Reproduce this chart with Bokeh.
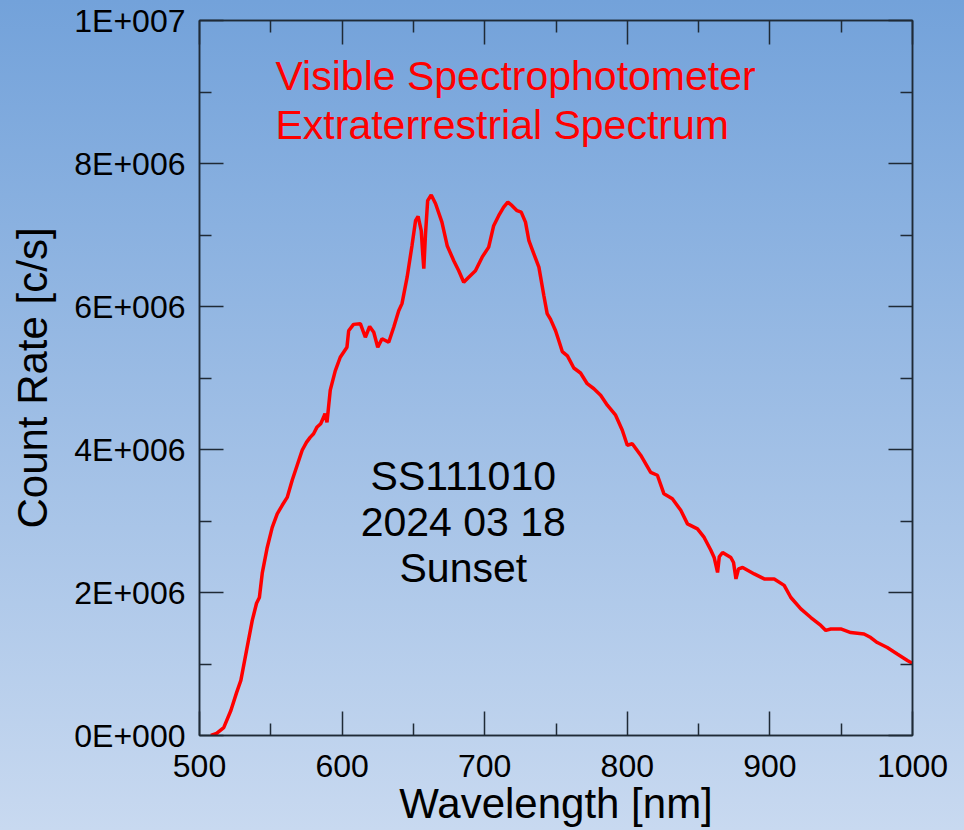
from bokeh.plotting import figure
from bokeh.models import LinearAxis, FixedTicker, Label, Range1d
from bokeh.embed import file_html
from bokeh.resources import INLINE

# ---------------- data ----------------
wavelength = [508, 512, 517, 522, 526, 529, 533, 537, 540, 542, 544, 547.5, 551, 554.5, 558,
              561.5, 565, 568.5, 572, 575, 577.6, 580, 582.3, 585, 587, 588, 589.4, 591.7,
              595.2, 598.7, 603.4, 604.6, 608, 612.8, 616.3, 619.3, 622.2, 625, 628, 632.7,
              636.2, 639.7, 642, 645.6, 649, 651.5, 653.3, 655.5, 656.5, 657.3, 658.5, 660,
              662.5, 665.5, 670, 673.7, 678.3, 681.8, 685.3, 688.8, 693.5, 698.2, 702.8,
              706.3, 709.8, 713.3, 716.2, 719.2, 722.7, 725.6, 728.6, 731, 734.4, 738, 741.5,
              743.8, 746.2, 749.7, 752, 754.4, 758, 762.5, 767.2, 771.9, 776.6, 781.3, 786,
              791.8, 796.5, 800, 803.5, 809.4, 816.4, 821.1, 825.7, 831.6, 837.5, 842.2,
              849.2, 853.9, 858.6, 860.9, 863.3, 864.5, 866.8, 872.6, 874.5, 876.2, 878,
              880.9, 889, 896, 903, 910, 914.7, 921.7, 928.7, 935.7, 939.2, 942.7, 949.7,
              956.7, 966, 970.7, 975.3, 982.3, 989.3, 996.4, 999.9]
count_rate_millions = [0.0, 0.03, 0.11, 0.35, 0.6, 0.77, 1.19, 1.61, 1.85, 1.93, 2.27, 2.63,
                       2.91, 3.1, 3.22, 3.33, 3.57, 3.78, 3.99, 4.1, 4.17, 4.22, 4.31, 4.36,
                       4.45, 4.5, 4.38, 4.83, 5.1, 5.29, 5.43, 5.66, 5.75, 5.76, 5.57, 5.72,
                       5.64, 5.43, 5.55, 5.5, 5.71, 5.94, 6.04, 6.41, 6.85, 7.2, 7.26, 7.06,
                       6.75, 6.53, 7.02, 7.48, 7.56, 7.44, 7.18, 6.85, 6.64, 6.5, 6.34, 6.41,
                       6.5, 6.69, 6.83, 7.13, 7.27, 7.39, 7.46, 7.41, 7.34, 7.32, 7.18, 6.92,
                       6.74, 6.55, 6.15, 5.9, 5.82, 5.66, 5.52, 5.37, 5.31, 5.14, 5.07, 4.92,
                       4.85, 4.76, 4.62, 4.48, 4.27, 4.06, 4.08, 3.92, 3.68, 3.64, 3.38, 3.31,
                       3.15, 2.96, 2.89, 2.77, 2.59, 2.49, 2.28, 2.5, 2.56, 2.49, 2.42, 2.19,
                       2.33, 2.35, 2.26, 2.19, 2.19, 2.1, 1.93, 1.77, 1.65, 1.54, 1.47, 1.49,
                       1.49, 1.44, 1.42, 1.37, 1.30, 1.23, 1.14, 1.05, 1.01]
count_rate = [v * 1e6 for v in count_rate_millions]

x_ticks = [500, 600, 700, 800, 900, 1000]
x_minor_ticks = [550, 650, 750, 850, 950]
y_ticks = [0, 2000000, 4000000, 6000000, 8000000, 10000000]
y_minor_ticks = [1000000, 3000000, 5000000, 7000000, 9000000]
y_tick_labels = ["0E+000", "2E+006", "4E+006", "6E+006", "8E+006", "1E+007"]

title_lines = ["Visible Spectrophotometer", "Extraterrestrial Spectrum"]
info_lines = ["SS111010", "2024 03 18", "Sunset"]

FONT = "Liberation Sans"
AXIS_COLOR = "#1f2a36"

# ---------------- figure ----------------
p = figure(width=964, height=830, output_backend="svg", toolbar_location=None,
           x_range=Range1d(500, 1000), y_range=Range1d(0, 1e7),
           min_border_left=199, min_border_right=52, min_border_top=20, min_border_bottom=95)
p.background_fill_color = None
p.border_fill_color = None
p.outline_line_color = AXIS_COLOR
p.outline_line_width = 1.5
p.styles = {"background-image": "linear-gradient(to bottom, #73A2DA, #C8D9F0)"}
p.xgrid.visible = False
p.ygrid.visible = False

xt = FixedTicker(ticks=x_ticks, minor_ticks=x_minor_ticks)
yt = FixedTicker(ticks=y_ticks, minor_ticks=y_minor_ticks)

def style_axis(ax, ticker):
    ax.ticker = ticker
    ax.axis_line_color = AXIS_COLOR
    ax.axis_line_width = 1.5
    ax.major_tick_line_color = AXIS_COLOR
    ax.major_tick_line_width = 1.5
    ax.minor_tick_line_color = AXIS_COLOR
    ax.minor_tick_line_width = 1.5
    ax.major_tick_in = 24
    ax.major_tick_out = 0
    ax.minor_tick_in = 12
    ax.minor_tick_out = 0
    ax.major_label_text_font = FONT
    ax.major_label_text_font_size = "32px"
    ax.major_label_text_color = "black"
    ax.axis_label_text_font = FONT
    ax.axis_label_text_font_size = "42px"
    ax.axis_label_text_font_style = "normal"
    ax.axis_label_text_color = "black"

xa = p.xaxis[0]
ya = p.yaxis[0]
style_axis(xa, xt)
style_axis(ya, yt)
xa.axis_label = "Wavelength [nm]"
ya.axis_label = "Count Rate [c/s]"
xa.major_label_standoff = 19
ya.major_label_standoff = 14
xa.axis_label_standoff = 0
ya.axis_label_standoff = 15
ya.major_label_overrides = {t: s for t, s in zip(y_ticks, y_tick_labels)}

top_ax = LinearAxis()
right_ax = LinearAxis()
style_axis(top_ax, FixedTicker(ticks=x_ticks, minor_ticks=x_minor_ticks))
style_axis(right_ax, FixedTicker(ticks=y_ticks, minor_ticks=y_minor_ticks))
for ax in (top_ax, right_ax):
    ax.major_label_text_font_size = "0px"
    ax.major_label_standoff = 0
p.add_layout(top_ax, "above")
p.add_layout(right_ax, "right")

p.line(wavelength, count_rate, line_color="#FF0000", line_width=3.5)

# ---------------- annotations ----------------
for txt, yv in zip(title_lines, [9.217e6, 8.545e6]):
    p.add_layout(Label(x=553.3, y=yv, text=txt, text_font=FONT, text_font_size="41px",
                       text_color="#FF0000", text_align="left", text_baseline="alphabetic"))
for txt, yv in zip(info_lines, [3.636e6, 2.993e6, 2.336e6]):
    p.add_layout(Label(x=685.0, y=yv, text=txt, text_font=FONT, text_font_size="41px",
                       text_color="black", text_align="center", text_baseline="alphabetic"))

open("out.html", "w").write(file_html(p, INLINE))
